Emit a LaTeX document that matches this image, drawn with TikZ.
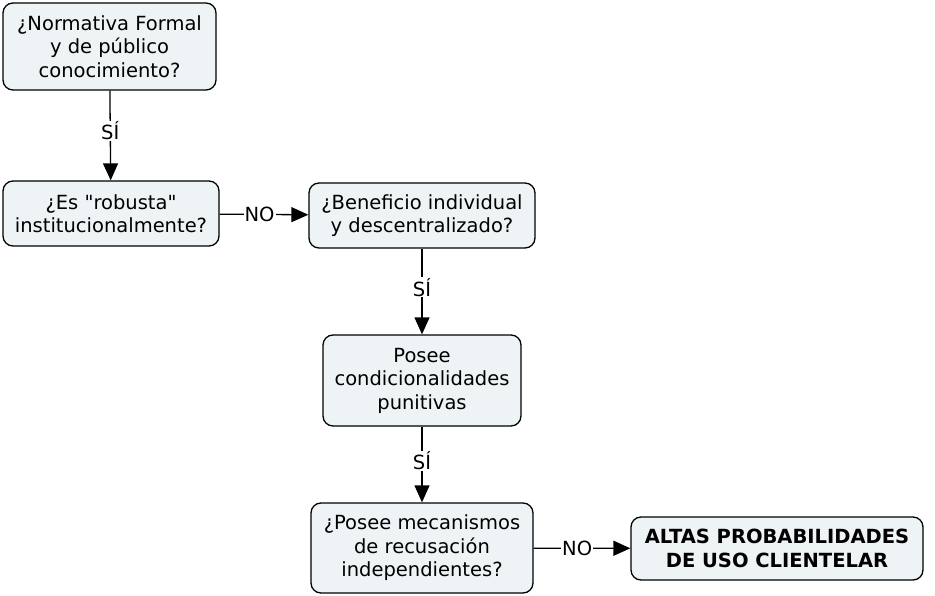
\documentclass[tikz,border=0pt]{standalone}
\usepackage{fontspec}
\setmainfont{DejaVu Sans}[Ligatures=TeXOff]
\usetikzlibrary{arrows.meta,positioning,shapes}

\begin{document}
\begin{tikzpicture}[x = 1pt, y = -1pt,
  box/.style = {draw, line width=1.3pt, rounded corners=10pt, fill=boxfill, align=center, inner sep=0pt},
  lab/.style = {fill=white, inner sep=1pt, font=\fontsize{19.5}{22}\selectfont}]
\definecolor{boxfill}{HTML}{EEF3F6}
\fontsize{19.5}{23.5}\selectfont
\useasboundingbox (0,0) rectangle (935,596);
\node[box, minimum width=213pt, minimum height=87pt] (formal) at (109.5,46.5) {¿Normativa Formal\\y de público\\conocimiento?};
\node[box, minimum width=216pt, minimum height=65pt] (robusta) at (111,213.5) {¿Es "robusta"\\institucionalmente?};
\node[box, minimum width=226pt, minimum height=65pt] (beneficio) at (422,215.5) {¿Beneficio individual\\y descentralizado?};
\node[box, minimum width=198pt, minimum height=91pt] (punitivas) at (422,380.5) {Posee\\condicionalidades\\punitivas};
\node[box, minimum width=222pt, minimum height=90pt] (recusacion) at (422,548) {¿Posee mecanismos\\de recusación\\independientes?};
\node[box, minimum width=292pt, minimum height=63pt, font=\bfseries] (clientelar) at (777,548.5) {ALTAS PROBABILIDADES\\DE USO CLIENTELAR};
% conectores
\draw[-{Triangle[length=17pt, width=15pt]}, line width=1.3pt] (formal) -- node[lab, pos=0.45] {SÍ} (robusta);
\draw[-{Triangle[length=17pt, width=15pt]}, line width=1.3pt] (robusta) -- node[lab, pos=0.45] {NO} (beneficio);
\draw[-{Triangle[length=17pt, width=15pt]}, line width=1.3pt] (beneficio) -- node[lab, pos=0.45] {SÍ} (punitivas);
\draw[-{Triangle[length=17pt, width=15pt]}, line width=1.3pt] (punitivas) -- node[lab, pos=0.45] {SÍ} (recusacion);
\draw[-{Triangle[length=17pt, width=15pt]}, line width=1.3pt] (recusacion) -- node[lab, pos=0.45] {NO} (clientelar);
\end{tikzpicture}
\end{document}
